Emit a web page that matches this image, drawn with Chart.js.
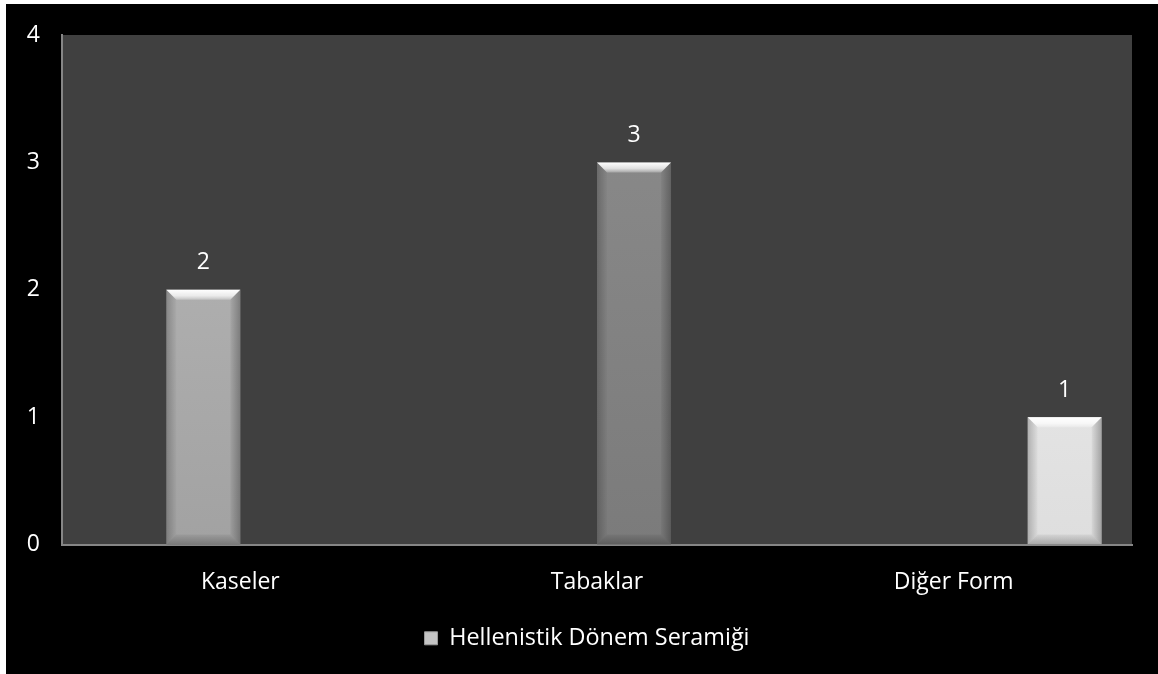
<!DOCTYPE html>
<html>
<head>
<meta charset="utf-8">
<script src="https://cdn.jsdelivr.net/npm/chart.js@4/dist/chart.umd.min.js"></script>
<style>
  html, body { margin: 0; padding: 0; background: #ffffff; overflow: hidden; }
  #wrap { position: absolute; left: 6px; top: 4px; width: 1300px; height: 800px; background: #000; }
  canvas { display: block; }
</style>
</head>
<body>
<div id="wrap"><canvas id="myChart" width="1152" height="670"></canvas></div>
<script>
const categories = ['Kaseler', 'Tabaklar', 'Diğer Form'];
// four series in the original workbook, each category carries one value
const emptySeries = [null, null, null];
const kaselerSeries = [2, null, null];
const tabaklarSeries = [null, 3, null];
const digerSeries = [null, null, 1];
const yTicks = [0, 1, 2, 3, 4];
const legendLabel = 'Hellenistik Dönem Seramiği';

const FONT = { family: '"Open Sans", sans-serif', size: 23 };

// colour pairs: top, bottom of the bar face
const shades = [
  ['#bdbdbd', '#bdbdbd'],
  ['#bababa', '#a2a2a2'],
  ['#8c8c8c', '#7b7b7b'],
  ['#f2f2f2', '#dedede']
];

function faceGradient(ctx, idx) {
  const chart = ctx.chart;
  const area = chart.chartArea;
  if (!area) return shades[idx][0];
  const g = chart.ctx.createLinearGradient(0, area.top, 0, area.bottom);
  g.addColorStop(0, shades[idx][0]);
  g.addColorStop(1, shades[idx][1]);
  return g;
}

const backdrop = {
  id: 'backdrop',
  afterLayout(chart) {
    // legend sits a bit right of the canvas centre in the original
    chart.legend.left += 18;
    chart.legend.right += 18;
  },
  beforeDraw(chart) {
    const { ctx, chartArea: a } = chart;
    ctx.save();
    ctx.fillStyle = '#000000';
    ctx.fillRect(0, 0, chart.width, chart.height);
    ctx.fillStyle = '#404040';
    ctx.fillRect(a.left, a.top, a.right - a.left, a.bottom - a.top);
    ctx.restore();
  }
};

// bevel look on each bar + value label above it
const bevel = {
  id: 'bevel',
  afterDatasetsDraw(chart) {
    const ctx = chart.ctx;
    chart.data.datasets.forEach((ds, di) => {
      const meta = chart.getDatasetMeta(di);
      meta.data.forEach((bar, i) => {
        const v = ds.data[i];
        if (v === null || v === undefined) return;
        const p = bar.getProps(['x', 'y', 'base', 'width'], true);
        const l = p.x - p.width / 2, r = p.x + p.width / 2;
        const t = p.y, b = p.base;
        const s = 10;
        ctx.save();
        // top bevel
        let g = ctx.createLinearGradient(0, t, 0, t + s);
        g.addColorStop(0, 'rgba(255,255,255,1)');
        g.addColorStop(0.6, 'rgba(255,255,255,0.75)');
        g.addColorStop(1, 'rgba(255,255,255,0.25)');
        ctx.fillStyle = g;
        ctx.beginPath();
        ctx.moveTo(l, t); ctx.lineTo(r, t); ctx.lineTo(r - s, t + s); ctx.lineTo(l + s, t + s);
        ctx.closePath(); ctx.fill();
        // left bevel
        g = ctx.createLinearGradient(l, 0, l + s, 0);
        g.addColorStop(0, 'rgba(0,0,0,0.22)');
        g.addColorStop(1, 'rgba(0,0,0,0.02)');
        ctx.fillStyle = g;
        ctx.beginPath();
        ctx.moveTo(l, t); ctx.lineTo(l + s, t + s); ctx.lineTo(l + s, b - s); ctx.lineTo(l, b);
        ctx.closePath(); ctx.fill();
        // right bevel
        g = ctx.createLinearGradient(r, 0, r - s, 0);
        g.addColorStop(0, 'rgba(0,0,0,0.28)');
        g.addColorStop(1, 'rgba(0,0,0,0.04)');
        ctx.fillStyle = g;
        ctx.beginPath();
        ctx.moveTo(r, t); ctx.lineTo(r - s, t + s); ctx.lineTo(r - s, b - s); ctx.lineTo(r, b);
        ctx.closePath(); ctx.fill();
        // bottom bevel
        g = ctx.createLinearGradient(0, b, 0, b - s);
        g.addColorStop(0, 'rgba(0,0,0,0.25)');
        g.addColorStop(1, 'rgba(0,0,0,0.05)');
        ctx.fillStyle = g;
        ctx.beginPath();
        ctx.moveTo(l, b); ctx.lineTo(r, b); ctx.lineTo(r - s, b - s); ctx.lineTo(l + s, b - s);
        ctx.closePath(); ctx.fill();
        // value label
        ctx.fillStyle = '#ffffff';
        ctx.font = FONT.size + 'px ' + FONT.family;
        ctx.textAlign = 'center';
        ctx.textBaseline = 'middle';
        ctx.fillText(String(v), p.x, t - 27);
        ctx.restore();
      });
    });
  }
};

const seriesList = [emptySeries, kaselerSeries, tabaklarSeries, digerSeries];

const data = {
  labels: categories,
  datasets: seriesList.map((s, idx) => ({
    label: idx === 0 ? legendLabel : '',
    data: s,
    backgroundColor: (c) => faceGradient(c, idx),
    borderWidth: 0,
    barPercentage: 1,
    categoryPercentage: 0.83
  }))
};

const config = {
  type: 'bar',
  data: data,
  plugins: [backdrop, bevel],
  options: {
    responsive: false,
    animation: false,
    layout: { padding: { top: 31, right: 26, left: 0, bottom: 14 } },
    plugins: {
      tooltip: { enabled: false },
      legend: {
        position: 'bottom',
        labels: {
          color: '#ffffff',
          font: { family: FONT.family, size: 23.4 },
          boxWidth: 13,
          boxHeight: 13,
          padding: 10,
          generateLabels: (chart) => [{
            text: legendLabel,
            fillStyle: '#c4c4c4',
            strokeStyle: '#9a9a9a',
            lineWidth: 1,
            fontColor: '#ffffff',
            datasetIndex: 0
          }]
        }
      }
    },
    scales: {
      x: {
        grid: { display: false, drawTicks: false },
        border: { display: true, color: '#868686', width: 2 },
        ticks: { color: '#ffffff', font: FONT, padding: 24 },
        afterFit: (s) => { s.height = 72; }
      },
      y: {
        min: 0,
        max: 4,
        afterBuildTicks: (s) => { s.ticks = yTicks.map(v => ({ value: v })); },
        grid: { display: false, drawTicks: false },
        border: { display: true, color: '#868686', width: 2 },
        ticks: { color: '#ffffff', font: FONT, padding: 22 },
        afterFit: (s) => { s.width = 56; s.paddingTop = 0; s.paddingBottom = 0; }
      }
    }
  }
};

const myChart = new Chart(document.getElementById('myChart'), config);
</script>
</body>
</html>
